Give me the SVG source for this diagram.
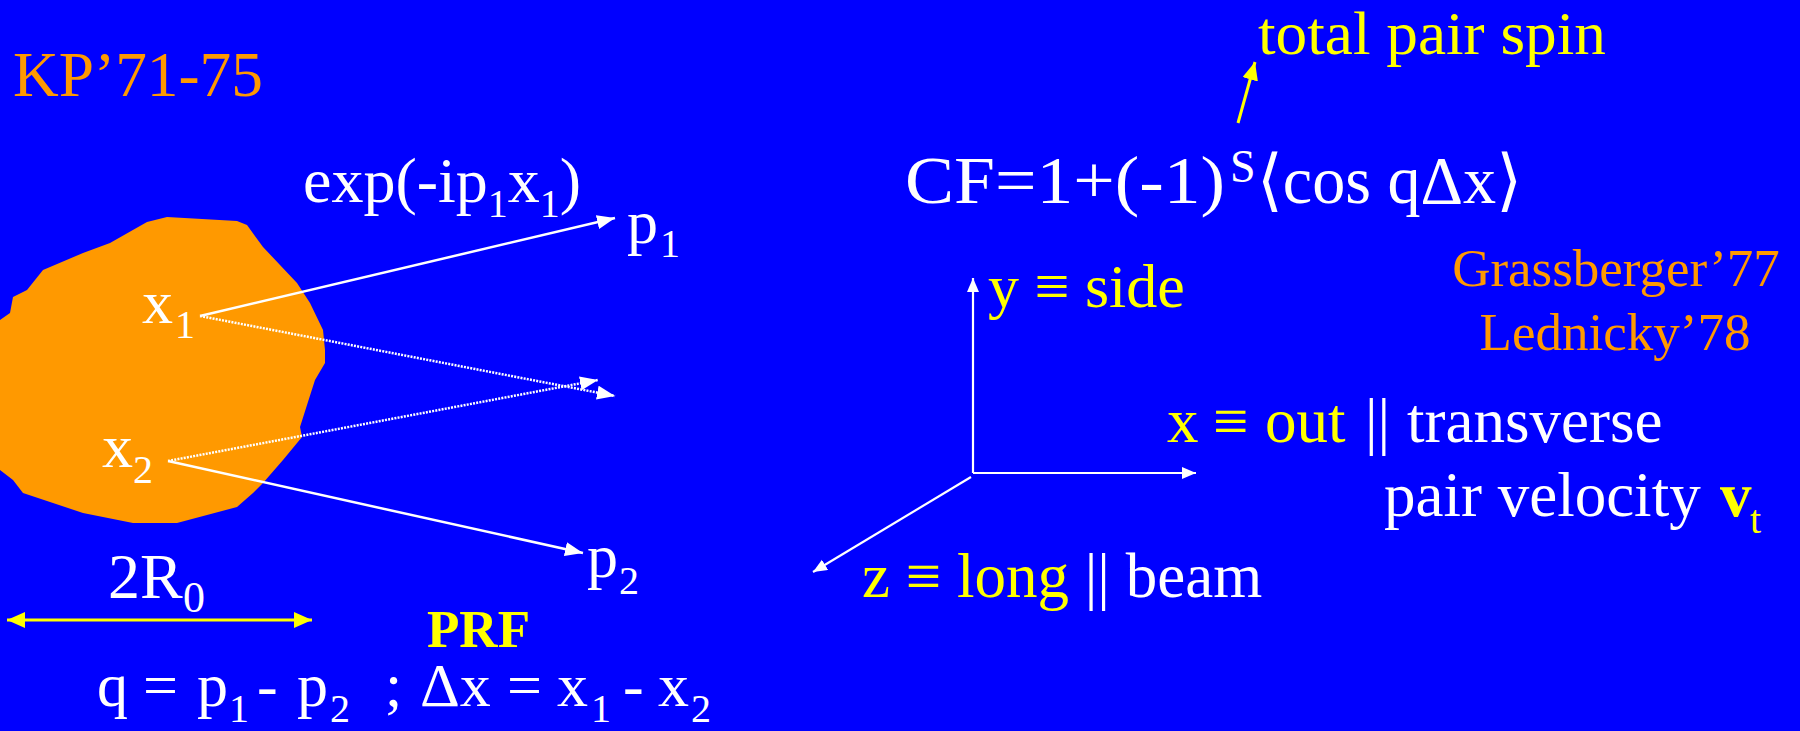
<svg xmlns="http://www.w3.org/2000/svg" width="1800" height="731" viewBox="0 0 1800 731">
<style>
  text { font-family: "Liberation Serif", "Times New Roman", "DejaVu Serif", serif; }
  .w { fill: #FFFFFF; }
  .y { fill: #FFFF00; }
  .o { fill: #FF9900; }
  .big { font-size: 64px; }
  .sub { font-size: 40px; }
  .ln { stroke: #FFFFFF; stroke-width: 2.5; fill: none; }
  .dot { stroke: #FFFFFF; stroke-width: 2.5; fill: none; stroke-dasharray: 2 1.2; }
  .yl { stroke: #FFFF00; stroke-width: 3; fill: none; }
  .ax { stroke: #FFFFFF; stroke-width: 2.2; fill: none; }
</style>
<defs>
  <marker id="aw" markerUnits="userSpaceOnUse" markerWidth="20" markerHeight="16" refX="18" refY="7" orient="auto">
    <path d="M0,0 L18,7 L0,14 z" fill="#FFFFFF"/>
  </marker>
  <marker id="aws" markerUnits="userSpaceOnUse" markerWidth="16" markerHeight="14" refX="14" refY="6" orient="auto">
    <path d="M0,0 L14,6 L0,12 z" fill="#FFFFFF"/>
  </marker>
  <marker id="ay" markerUnits="userSpaceOnUse" markerWidth="20" markerHeight="18" refX="18" refY="8" orient="auto-start-reverse">
    <path d="M0,0 L18,8 L0,16 z" fill="#FFFF00"/>
  </marker>
</defs>
<rect x="0" y="0" width="1800" height="731" fill="#0000FF"/>

<g id="source">
  <path fill="#FF9900" d="M-5,320 L0,320 L10,313 L13,297 L27,290 L43,270 L83,253 L110,243 L147,222 L167,217 L237,221 L247,225 L263,247 L280,265 L297,283 L310,303 L323,330 L325,350 L325,363 L315,380 L307,405 L300,427 L302,437 L283,460 L263,483 L253,493 L237,507 L177,523 L133,523 L83,513 L23,493 L13,480 L0,470 L-5,470 Z"/>
</g>

<g id="connectors">
  <line class="ln" x1="200" y1="316" x2="615" y2="218" marker-end="url(#aw)"/>
  <line class="ln" x1="168" y1="461" x2="583" y2="553" marker-end="url(#aw)"/>
  <line class="dot" x1="200" y1="316" x2="615" y2="396" marker-end="url(#aw)"/>
  <line class="dot" x1="168" y1="461" x2="598" y2="380" marker-end="url(#aw)"/>
  <line class="yl" x1="7" y1="620" x2="312" y2="620" marker-start="url(#ay)" marker-end="url(#ay)"/>
  <line class="yl" x1="1238" y1="123" x2="1255" y2="62" stroke-width="2.5" marker-end="url(#ay)"/>
  <line class="ax" x1="973" y1="473" x2="973" y2="278" marker-end="url(#aws)"/>
  <line class="ax" x1="973" y1="473" x2="1196" y2="473" marker-end="url(#aws)"/>
  <line class="ax" x1="971" y1="477" x2="813" y2="572" marker-end="url(#aws)"/>
</g>

<g id="kp-label">
  <text class="o" x="13" y="96" font-size="64" textLength="250" lengthAdjust="spacingAndGlyphs">KP’71-75</text>
</g>

<g id="exp-label">
  <text class="w big" x="303" y="202">exp(-ip<tspan class="sub" dy="15">1</tspan><tspan dy="-15">x</tspan><tspan class="sub" dy="15">1</tspan><tspan dy="-15">)</tspan></text>
</g>

<g id="x1-label">
  <text class="w" font-size="62"><tspan x="142" y="323">x</tspan><tspan x="175" y="338" class="sub">1</tspan></text>
</g>
<g id="x2-label">
  <text class="w" font-size="62"><tspan x="102" y="467">x</tspan><tspan x="133" y="483" class="sub">2</tspan></text>
</g>
<g id="p1-label">
  <text class="w" font-size="62"><tspan x="627" y="243">p</tspan><tspan x="660" y="257" class="sub">1</tspan></text>
</g>
<g id="p2-label">
  <text class="w" font-size="62"><tspan x="587" y="577">p</tspan><tspan x="619" y="594" class="sub">2</tspan></text>
</g>
<g id="r0-label">
  <text class="w" font-size="64"><tspan x="108" y="598">2R</tspan><tspan x="183" y="612" font-size="44">0</tspan></text>
</g>
<g id="prf-label">
  <text class="y" x="427" y="647" font-size="53" font-weight="bold">PRF</text>
</g>
<g id="q-formula">
  <text class="w" font-size="62"><tspan x="97" y="706">q</tspan><tspan x="143">=</tspan><tspan x="197">p</tspan><tspan x="229" y="722" class="sub">1</tspan><tspan x="257" y="706">-</tspan><tspan x="297">p</tspan><tspan x="330" y="722" class="sub">2</tspan><tspan x="385" y="706">;</tspan><tspan x="420">Δx</tspan><tspan x="507">=</tspan><tspan x="557">x</tspan><tspan x="591" y="722" class="sub">1</tspan><tspan x="623" y="706">-</tspan><tspan x="658">x</tspan><tspan x="691" y="722" class="sub">2</tspan></text>
</g>

<g id="spin-label">
  <text class="y" x="1258" y="54" font-size="61" textLength="348" lengthAdjust="spacingAndGlyphs">total pair spin</text>
</g>
<g id="cf-formula">
  <text class="w" font-size="68"><tspan x="905" y="203" textLength="320" lengthAdjust="spacingAndGlyphs">CF=1+(-1)</tspan><tspan x="1230" y="182" font-size="46">S</tspan><tspan x="1257" y="203" textLength="265" lengthAdjust="spacingAndGlyphs">⟨cos qΔx⟩</tspan></text>
</g>
<g id="refs">
  <text class="o" x="1616" y="286" font-size="53" text-anchor="middle">Grassberger’77</text>
  <text class="o" x="1615" y="350" font-size="53" text-anchor="middle">Lednicky’78</text>
</g>
<g id="y-axis-label">
  <text class="y" x="988" y="307" font-size="62">y ≡ side</text>
</g>
<g id="x-axis-label">
  <text font-size="63" y="442"><tspan class="y" x="1167">x</tspan><tspan class="y" x="1213">≡</tspan><tspan class="y" x="1265">out</tspan><tspan class="w" x="1365">||</tspan><tspan class="w" x="1407">transverse</tspan></text>
  <text font-size="63" y="516"><tspan class="w" x="1384">pair velocity</tspan><tspan class="y" x="1720" font-weight="bold">v</tspan><tspan class="y" x="1750" y="533" font-size="40">t</tspan></text>
</g>
<g id="z-axis-label">
  <text font-size="63" y="597"><tspan class="y" x="862">z ≡ long</tspan><tspan class="w"> || beam</tspan></text>
</g>
</svg>
